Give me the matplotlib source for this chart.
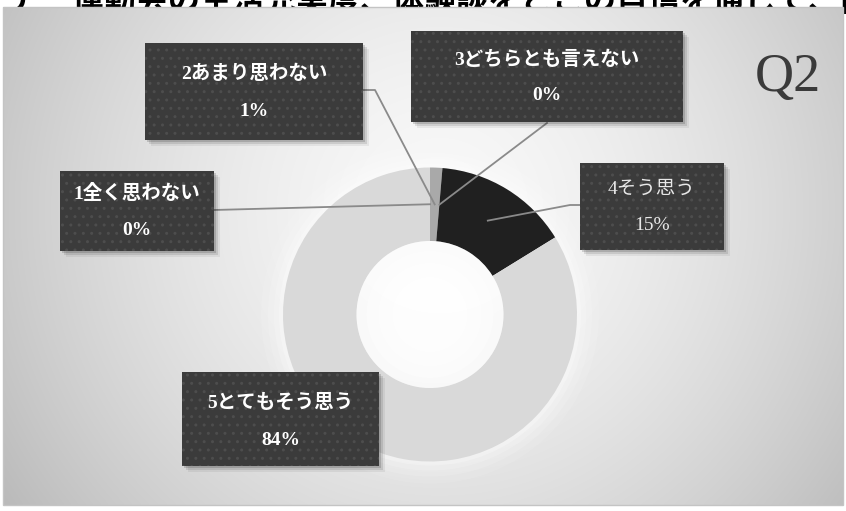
import numpy as np
import matplotlib
matplotlib.use("Agg")
import matplotlib.pyplot as plt
from matplotlib.patches import Rectangle, Circle

# ---- data ----
categories = ["1全く思わない", "2あまり思わない", "3どちらとも言えない", "4そう思う", "5とてもそう思う"]
counts = [0, 1, 0, 11, 62]
slice_colors = ["#a6a6a6", "#a9a9a9", "#a6a6a6", "#202020", "#d9d9d9"]
title_text = "ア　運動会の生活充実度、体験談をとこの自信を通じて、向上しましたか？"
corner_label = "Q2"

W, H = 846, 511
plt.rcParams['hatch.linewidth'] = 1.0
plt.rcParams['font.family'] = ['Liberation Serif', 'Noto Sans CJK JP', 'DejaVu Sans']

fig = plt.figure(figsize=(W / 100, H / 100), dpi=100)
fig.patch.set_facecolor("white")
ax = fig.add_axes([0, 0, 1, 1])
ax.set_xlim(0, W)
ax.set_ylim(0, H)
ax.axis("off")

def Y(y):
    return H - y

# ---- title (cut off at top, partly hidden by the panel, as in the reference) ----
ax.text(8, Y(11), title_text, fontsize=23, fontweight="bold", color="black",
        ha="left", va="baseline", family=['Noto Sans CJK JP', 'DejaVu Sans'],
        zorder=-1, clip_on=False)

# ---- panel background (radial gradient) ----
px0, py0, px1, py1 = 3, 7, 843, 505
gx = np.linspace(px0, px1, 300)
gy = np.linspace(py0, py1, 200)
GX, GY = np.meshgrid(gx, gy)
r = np.sqrt((GX - 440) ** 2 + (GY - 210) ** 2)
val = 0.975 - 0.24 * np.clip(r / 520, 0, 1.3) ** 1.6
img = np.dstack([val, val, val])
ax.imshow(img, extent=(px0, px1, Y(py1), Y(py0)), origin="upper", zorder=0, aspect="auto",
          interpolation="bilinear")
ax.add_patch(Rectangle((px0, Y(py1)), px1 - px0, py1 - py0, fill=False,
                       edgecolor="#c4c4c4", linewidth=1.0, zorder=1))

# ---- donut ----
cx, cy, R = 430, 314.5, 147
ring = 73.5
for k, a in [(22, 0.10), (15, 0.14), (9, 0.18), (4, 0.25)]:
    ax.add_patch(Circle((cx, Y(cy)), R + k, color="white", alpha=a, lw=0, zorder=2))

wedges, _ = ax.pie(counts, radius=R, center=(cx, Y(cy)), startangle=90, counterclock=False,
                   colors=slice_colors, wedgeprops=dict(width=ring, linewidth=0))
for w in wedges:
    w.set_zorder(3)
ax.set_xlim(0, W)
ax.set_ylim(0, H)
ax.set_aspect("equal")

inner = R - ring
for k, a in [(0, 0.35), (10, 0.35), (22, 0.45), (36, 0.6)]:
    ax.add_patch(Circle((cx, Y(cy)), inner - k, color="white", alpha=a, lw=0, zorder=3.5))

total = sum(counts)
cum = np.cumsum([0] + counts)
mid_r = R - ring / 2

def anchor(i):
    ang = np.deg2rad((cum[i] + counts[i] / 2) / total * 360)
    return cx + mid_r * np.sin(ang), cy - mid_r * np.cos(ang)

# ---- label boxes ----
boxes = [
    (60, 171, 214, 251, "bold", 193, 230),
    (145, 43, 363, 140, "bold", 74, 111),
    (411, 31, 683, 122, "bold", 60, 95),
    (580, 163, 724, 250, "normal", 189, 225),
    (182, 372, 379, 466, "bold", 403, 440),
]
leader_starts = [
    [(214, 210)],
    [(363, 90), (375, 90)],
    [(547, 123)],
    [(580, 205), (570, 205)],
    None,
]

for i, (x0, y0, x1, y1, wt, ty1, ty2) in enumerate(boxes):
    for off, a in [(6, 0.06), (4, 0.10), (2, 0.15)]:
        ax.add_patch(Rectangle((x0 + off, Y(y1) - off), x1 - x0, y1 - y0,
                               facecolor="black", alpha=a, lw=0, zorder=5))
    ax.add_patch(Rectangle((x0, Y(y1)), x1 - x0, y1 - y0, facecolor="#3b3b3b",
                           edgecolor="#4d4d4d", hatch="..", linewidth=0, zorder=6))
    pct = f"{round(counts[i] / total * 100)}%"
    col = "white" if wt == "bold" else "#e8e8e8"
    ax.text((x0 + x1) / 2, Y(ty1), categories[i], ha="center", va="center", fontsize=14,
            color=col, fontweight=wt, zorder=7)
    ax.text((x0 + x1) / 2, Y(ty2), pct, ha="center", va="center", fontsize=14,
            color=col, fontweight=wt, zorder=7)
    if leader_starts[i] is not None:
        pts = leader_starts[i] + [anchor(i)]
        xs = [p[0] for p in pts]
        ys = [Y(p[1]) for p in pts]
        ax.plot(xs, ys, color="#8a8a8a", lw=1.3, zorder=4.5)

# ---- corner label ----
ax.text(788, Y(78), corner_label, ha="center", va="center", fontsize=39,
        family=['Liberation Serif'], color="#3a3a3a", zorder=7)

fig.savefig("out.png", dpi=100, facecolor="white")
